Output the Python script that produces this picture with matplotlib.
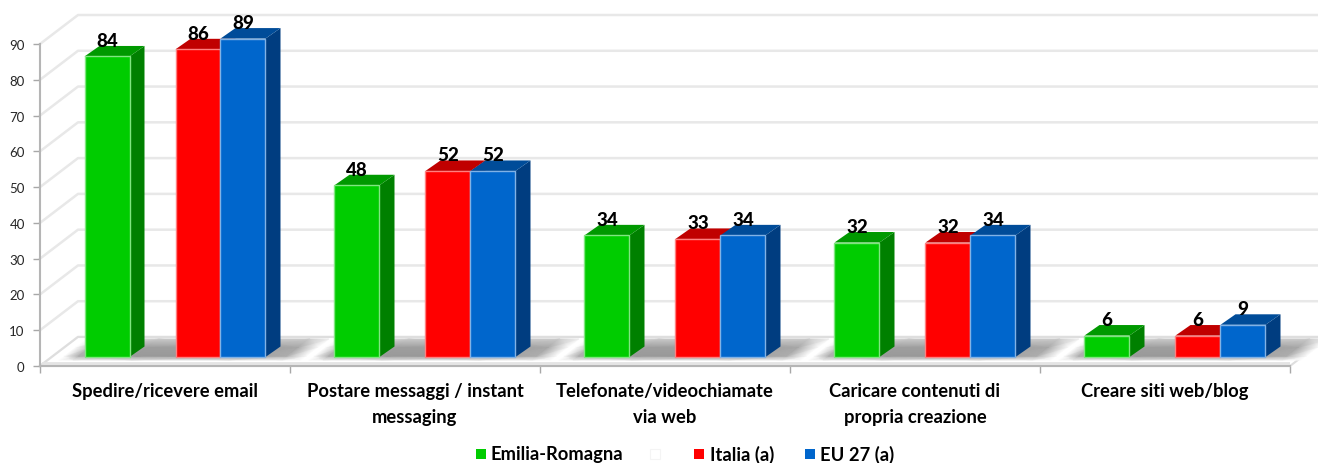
import numpy as np
import matplotlib
matplotlib.use("Agg")
import matplotlib.pyplot as plt
from matplotlib.patches import Polygon
from matplotlib.transforms import ScaledTranslation

categories = ["Spedire/ricevere email", "Postare messaggi / instant\nmessaging",
              "Telefonate/videochiamate\nvia web", "Caricare contenuti di\npropria creazione",
              "Creare siti web/blog"]
emilia = [84, 48, 34, 32, 6]
italia = [86, 52, 33, 32, 6]
eu27 = [89, 52, 34, 34, 9]
y_ticks = list(range(0, 100, 10))

plt.rcParams["font.family"] = ["Lato", "DejaVu Sans"]

W, H = 1318, 464
fig = plt.figure(figsize=(W / 100, H / 100), dpi=100)
# front plane of the fake 3d box: x 40-1290 px, y 45-367 px
ax = fig.add_axes([40 / W, 1 - 367 / H, 1250 / W, 322 / H])
ax.set_xlim(0, 5)
ax.set_ylim(0, 90)

px_x = 5 / 1250
px_y = 90 / 322
wall_dx, wall_dy = 38 * px_x, 29 * px_y
depth_dx, depth_dy = 15 * px_x, 10.5 * px_y
bar_w = 45 * px_x
base = 9 * px_y


def poly(pts, **kw):
    ax.add_patch(Polygon(pts, closed=True, clip_on=False, **kw))


# back wall + left wall gridlines
for t in y_ticks:
    ax.plot([0, wall_dx, 5 + wall_dx], [t, t + wall_dy, t + wall_dy], color="#e8e8e8",
            lw=1.8, clip_on=False, zorder=1)

# floor plate
poly([(0, 0), (wall_dx, wall_dy), (5 + wall_dx, wall_dy), (5, 0)], fc="white",
     ec="#dedede", lw=1.5, zorder=1.5)
ax.plot([0.01, 5], [3 * px_y, 3 * px_y], color="#e4e4e4", lw=2, zorder=1.55)

# soft shadow on the floor, one sheared patch per category
shadow_u = np.array([0, 0.06, 0.3, 0.7, 0.92, 1.0])
shadow_px = np.array([6, 10, 19, 27])
shadow_grey = np.array([[1, 0.93, 0.88, 0.88, 0.93, 1],
                        [1, 0.68, 0.60, 0.60, 0.68, 1],
                        [1, 0.72, 0.62, 0.62, 0.66, 1],
                        [1, 0.90, 0.80, 0.80, 0.80, 0.96]])
for i in range(len(categories)):
    u, r = np.meshgrid(shadow_u, shadow_px)
    X = i + 0.044 + u * 0.97 + r * 1.31 * px_x
    Y = r * px_y
    ax.pcolormesh(X, Y, shadow_grey, cmap="gray", vmin=0, vmax=1, shading="gouraud",
                  clip_on=False, zorder=1.6)
ax.set_xlim(0, 5)
ax.set_ylim(0, 90)

series = [
    (emilia, 0.178, "#00cc00", "#009900", "#008000", "#80e680"),
    (italia, 0.542, "#ff0000", "#c00000", "#a80000", "#ff8080"),
    (eu27, 0.722, "#0066cc", "#004c99", "#003d80", "#80b2e6"),
]

for values, start, front, top, side, edge in series:
    x = np.arange(len(values)) + start
    ax.bar(x, values, width=bar_w, bottom=base, align="edge", color=front, edgecolor=edge,
           linewidth=1.0, clip_on=False, zorder=3)
    for xi, v in zip(x, values):
        y_top = v + base
        poly([(xi, y_top), (xi + depth_dx, y_top + depth_dy),
              (xi + bar_w + depth_dx, y_top + depth_dy), (xi + bar_w, y_top)],
             fc=top, ec="none", zorder=2.8)
        poly([(xi + bar_w, base), (xi + bar_w + depth_dx, base + depth_dy),
              (xi + bar_w + depth_dx, y_top + depth_dy), (xi + bar_w, y_top)],
             fc=side, ec="none", zorder=2.7)
        ax.text(xi + bar_w / 2, y_top + 16 * px_y, str(v), ha="center", va="center",
                fontsize=13.5, fontweight="black", color="black", zorder=5, clip_on=False)

for name in ("top", "right"):
    ax.spines[name].set_visible(False)
for name in ("left", "bottom"):
    ax.spines[name].set_color("#b5b5b5")
    ax.spines[name].set_linewidth(1.5)

ax.set_yticks(y_ticks)
ax.set_xticks(range(6))
ax.set_xticklabels([])
ax.tick_params(axis="both", color="#a8a8a8", width=1, length=5)
ax.tick_params(axis="y", labelsize=9.5, labelcolor="#262626", pad=6)
ax.patch.set_visible(False)

label_shift = ScaledTranslation(0, -16 / 100, fig.dpi_scale_trans)
for i, name in enumerate(categories):
    ax.text(i + 0.5, 0, name, transform=ax.get_xaxis_transform() + label_shift,
            ha="center", va="top", fontsize=13.2, fontweight="bold", linespacing=1.62, color="black")

# legend, the blank entry in the middle is part of the original
legend_items = [("Emilia-Romagna", "#00cc00", 476, 491), ("", "white", 650, 0),
                ("Italia (a)", "#ff0000", 694, 710), ("EU 27 (a)", "#0066cc", 805, 820)]
for label, colour, sq_x, txt_x in legend_items:
    fig.patches.append(plt.Rectangle((sq_x / W, 1 - 460 / H), 10 / W, 10 / H, transform=fig.transFigure,
                                     fc=colour, ec="#f4f4f4" if colour == "white" else "none", lw=0.8))
    if label:
        fig.text(txt_x / W, 1 - 455 / H, label, ha="left", va="center", fontsize=13.2, fontweight="bold")

fig.savefig("out.png", dpi=100)
